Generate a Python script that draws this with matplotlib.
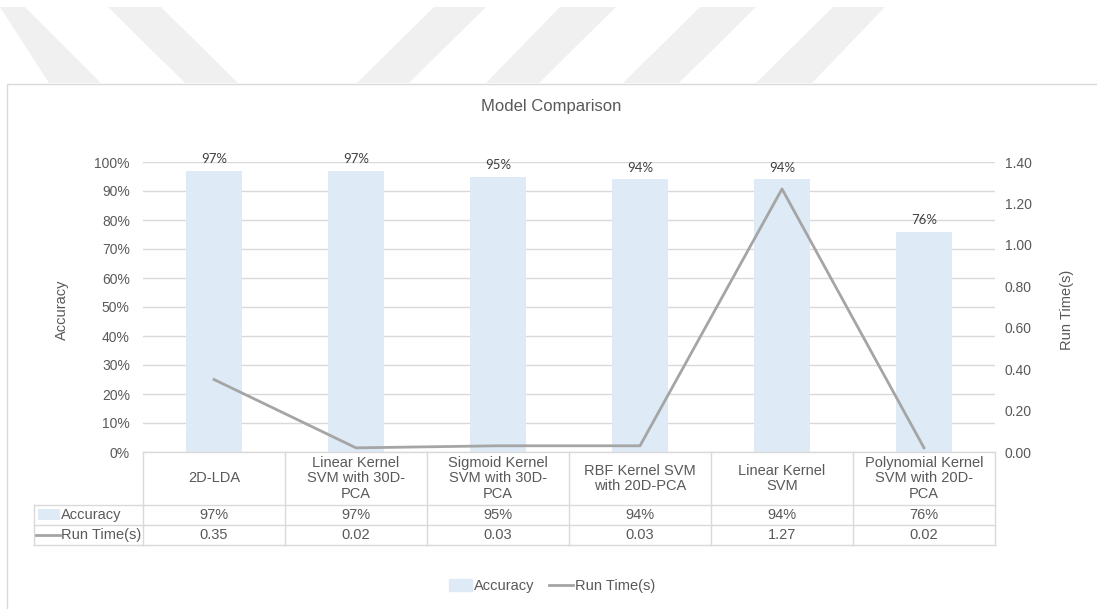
import matplotlib
matplotlib.use('Agg')
import matplotlib.pyplot as plt
from matplotlib.patches import Patch, Polygon, Rectangle
from matplotlib.lines import Line2D
from matplotlib.transforms import blended_transform_factory
import numpy as np

plt.rcParams['font.family'] = ['Liberation Sans', 'DejaVu Sans']

models = ['2D-LDA', 'Linear Kernel\nSVM with 30D-\nPCA', 'Sigmoid Kernel\nSVM with 30D-\nPCA',
          'RBF Kernel SVM\nwith 20D-PCA', 'Linear Kernel\nSVM', 'Polynomial Kernel\nSVM with 20D-\nPCA']
accuracy = [97, 97, 95, 94, 94, 76]
run_time = [0.35, 0.02, 0.03, 0.03, 1.27, 0.02]
acc_ticks = [0, 10, 20, 30, 40, 50, 60, 70, 80, 90, 100]
rt_ticks = [0.0, 0.2, 0.4, 0.6, 0.8, 1.0, 1.2, 1.4]

W, H = 1097, 609
bar_c = '#DEEAF6'
line_c = '#A5A5A5'
txt_c = '#595959'
grid_c = '#D9D9D9'
fs = 10.5

fig = plt.figure(figsize=(W / 100, H / 100), dpi=100)

def fx(x):
    return x / W

def fy(y):
    return 1 - y / H

# watermark stripes behind the chart
stripe_c = '#F0F0F0'
stripes = [((0, 25), (49, 101)), ((108, 161), (185, 238)),
           ((434, 486), (357, 409)), ((560, 616), (486, 539)),
           ((700, 756), (623, 679)), ((833, 885), (756, 812))]
for (t0, t1), (b0, b1) in stripes:
    fig.patches.append(Polygon([(fx(t0), fy(7)), (fx(t1), fy(7)), (fx(b1), fy(83)), (fx(b0), fy(83))],
                               closed=True, transform=fig.transFigure, color=stripe_c, lw=0, zorder=0))
# chart frame
fig.patches.append(Rectangle((fx(7), fy(612)), fx(1100) - fx(7), fy(84) - fy(612),
                             transform=fig.transFigure, fill=False, ec=grid_c, lw=1, zorder=1))

ax = fig.add_axes([fx(143), fy(452), fx(995) - fx(143), fy(162) - fy(452)])
x = np.arange(len(models))
ax.bar(x, accuracy, width=0.39, color=bar_c, zorder=2)
for xi, v in zip(x, accuracy):
    ax.annotate('{}%'.format(v), (xi, v), xytext=(0, 4), textcoords='offset points',
                ha='center', va='bottom', fontsize=9.5, color='#404040', family=['Lato', 'DejaVu Sans'])
ax.set_xlim(-0.5, len(models) - 0.5)
ax.set_ylim(0, 100)
ax.set_yticks(acc_ticks)
ax.set_yticklabels(['{}%'.format(t) for t in acc_ticks])
ax.set_xticks([])
ax.grid(axis='y', color=grid_c, lw=1, zorder=0)
ax.set_axisbelow(True)
ax.tick_params(axis='y', length=0, pad=9.5, labelsize=10, labelcolor=txt_c)
for s in ax.spines.values():
    s.set_visible(False)

ax2 = ax.twinx()
ax2.plot(x, run_time, color=line_c, lw=2, zorder=3)
ax2.set_ylim(0, 1.4)
ax2.set_yticks(rt_ticks)
ax2.set_yticklabels(['{:.2f}'.format(t) for t in rt_ticks])
ax2.tick_params(axis='y', length=0, pad=7, labelsize=10, labelcolor=txt_c)
for s in ax2.spines.values():
    s.set_visible(False)

fig.text(fx(62), fy(310), 'Accuracy', rotation=90, ha='center', va='center', fontsize=fs, color=txt_c)
fig.text(fx(1067), fy(310), 'Run Time(s)', rotation=90, ha='center', va='center', fontsize=fs, color=txt_c)
fig.text(fx(551), fy(106), 'Model Comparison', ha='center', va='center', fontsize=12, color=txt_c)

# data table under the axis
tr = blended_transform_factory(ax.transData, fig.transFigure)
y_top, y_head, y_acc, y_rt = fy(452), fy(505), fy(525), fy(545)
for b in np.arange(len(models) + 1) - 0.5:
    ax.add_line(Line2D([b, b], [y_top, y_rt], transform=tr, color=grid_c, lw=1, clip_on=False))
for yy in [y_top, y_head, y_acc, y_rt]:
    ax.add_line(Line2D([-0.5, len(models) - 0.5], [yy, yy], transform=tr, color=grid_c, lw=1, clip_on=False))
for yy in [y_head, y_acc, y_rt]:
    fig.add_artist(Line2D([fx(34), fx(143)], [yy, yy], color=grid_c, lw=1))
fig.add_artist(Line2D([fx(34), fx(34)], [y_head, y_rt], color=grid_c, lw=1))
for xi, name, a, r in zip(x, models, accuracy, run_time):
    ax.text(xi, (y_top + y_head) / 2, name, transform=tr, ha='center', va='center',
            fontsize=fs, color=txt_c, linespacing=1.15)
    ax.text(xi, (y_head + y_acc) / 2, '{}%'.format(a), transform=tr, ha='center', va='center',
            fontsize=fs, color=txt_c)
    ax.text(xi, (y_acc + y_rt) / 2, '{:.2f}'.format(r), transform=tr, ha='center', va='center',
            fontsize=fs, color=txt_c)
fig.patches.append(Rectangle((fx(38), fy(520)), fx(60) - fx(38), fy(509) - fy(520),
                             transform=fig.transFigure, color=bar_c, lw=0))
fig.add_artist(Line2D([fx(36), fx(60)], [fy(535), fy(535)], color=line_c, lw=2))
fig.text(fx(61), (y_head + y_acc) / 2, 'Accuracy', ha='left', va='center', fontsize=fs, color=txt_c)
fig.text(fx(61), (y_acc + y_rt) / 2, 'Run Time(s)', ha='left', va='center', fontsize=fs, color=txt_c)

handles = [Patch(color=bar_c, label='Accuracy'), Line2D([], [], color=line_c, lw=2, label='Run Time(s)')]
fig.legend(handles=handles, loc='center', bbox_to_anchor=(fx(552), fy(586)), ncol=2, frameon=False,
           fontsize=fs, labelcolor=txt_c, handlelength=1.6, handleheight=0.8,
           handletextpad=0.15, columnspacing=1.0)

fig.savefig('out.png', dpi=100)
